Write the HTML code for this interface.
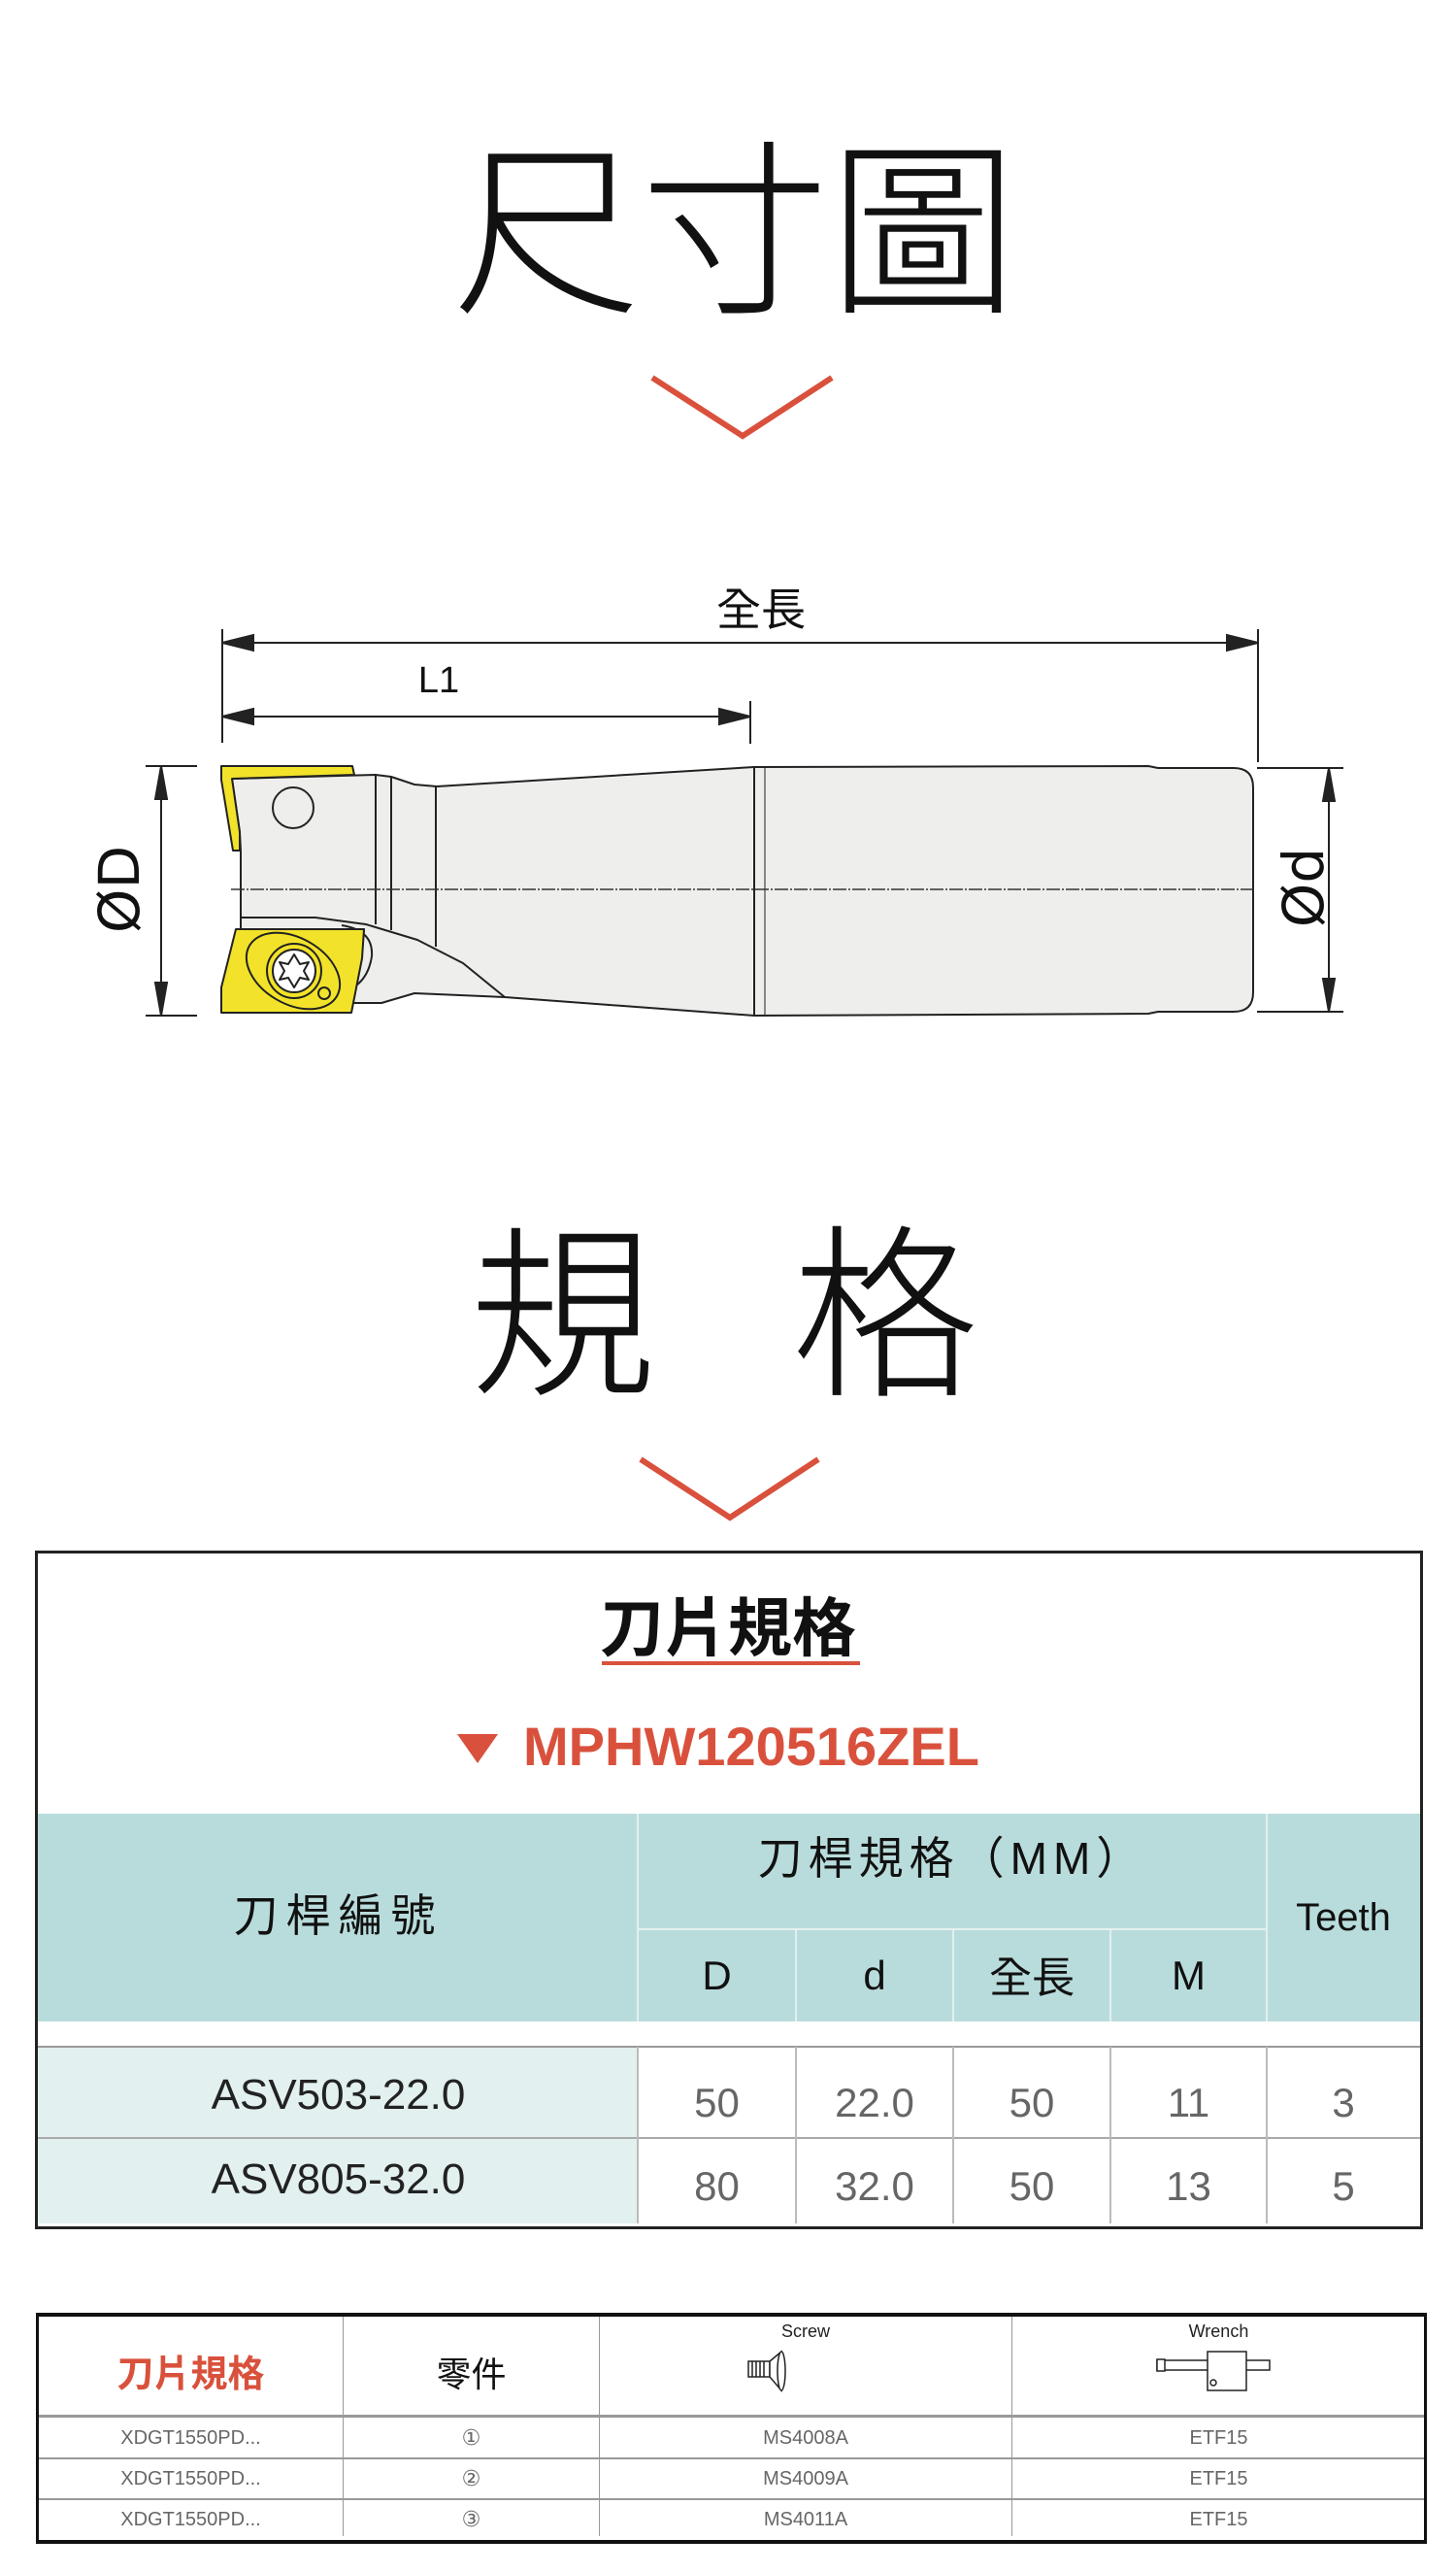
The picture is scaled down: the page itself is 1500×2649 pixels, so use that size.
<!DOCTYPE html>
<html><head><meta charset="utf-8"><style>
html,body{margin:0;padding:0;background:#fff}
body{width:1500px;height:2649px;position:relative;overflow:hidden;font-family:"Liberation Sans","Noto Sans CJK TC",sans-serif}
.abs{position:absolute}
.t{position:absolute;white-space:nowrap}
</style></head><body>

<div class="t" style="left:466px;top:104px;font-size:194px;line-height:240px;font-family:'Noto Sans CJK TC',sans-serif;font-weight:300;color:#111">尺寸圖</div>
<div class="t" style="left:484px;top:1220px;font-size:192px;line-height:240px;font-family:'Noto Sans CJK TC',sans-serif;font-weight:300;color:#111;letter-spacing:140px">規格</div>

<svg class="abs" style="left:0;top:0" width="1500" height="1600" viewBox="0 0 1500 1600">
<polyline points="672,389 765,449 857,389" fill="none" stroke="#d9513c" stroke-width="6"/>
<polyline points="660,1503 752,1563 843,1503" fill="none" stroke="#d9513c" stroke-width="6"/>

<g stroke="#222" stroke-width="2" fill="#222">
<line x1="229" y1="648" x2="229" y2="765"/>
<line x1="773" y1="722" x2="773" y2="766"/>
<line x1="1296" y1="648" x2="1296" y2="785"/>
<line x1="240" y1="662" x2="1285" y2="662"/>
<polygon points="229,662 261,654 261,670"/><polygon points="1296,662 1264,654 1264,670"/>
<line x1="240" y1="738" x2="762" y2="738"/>
<polygon points="229,738 261,730 261,746"/><polygon points="773,738 741,730 741,746"/>
<line x1="150" y1="789" x2="203" y2="789"/><line x1="150" y1="1046" x2="203" y2="1046"/>
<line x1="166" y1="800" x2="166" y2="1035"/>
<polygon points="166,789 160,823 172,823"/><polygon points="166,1046 160,1012 172,1012"/>
<line x1="1295" y1="791" x2="1384" y2="791"/><line x1="1295" y1="1042" x2="1384" y2="1042"/>
<line x1="1369" y1="800" x2="1369" y2="1032"/>
<polygon points="1369,791 1363,825 1375,825"/><polygon points="1369,1042 1363,1008 1375,1008"/>
</g>
<text x="784" y="644" font-size="46" text-anchor="middle" font-family="Noto Sans CJK TC, sans-serif" fill="#111">全長</text>
<text x="452" y="713" font-size="38" text-anchor="middle" font-family="Liberation Sans, sans-serif" fill="#111">L1</text>
<text transform="translate(143,916) rotate(-90)" font-size="58" text-anchor="middle" font-family="DejaVu Sans, sans-serif" fill="#111">ØD</text>
<text transform="translate(1363,914) rotate(-90)" font-size="58" text-anchor="middle" font-family="DejaVu Sans, sans-serif" fill="#111">Ød</text>

<g stroke="#222" stroke-width="2" fill="#eeeeec" stroke-linejoin="round">
<path d="M239,802 L387,798 L403,800 L427,808 L450,810 L777,790 L1183,789 L1193,791 L1271,791 Q1291,791 1291,811 L1291,1022 Q1291,1042 1271,1042 L1193,1042 L1183,1044 L777,1046 L520,1027 L427,1023 L393,1033 L362,1033 L373,987 L375,957 L248,957 L248,876 L247,857 Z"/>
<path d="M248,945 L325,945 L377,952 L430,968 L477,992 L520,1027" fill="none"/>
<line x1="387" y1="798" x2="387" y2="952"/>
<line x1="403" y1="800" x2="403" y2="958"/>
<line x1="449" y1="810" x2="449" y2="975"/>
<line x1="777" y1="790" x2="777" y2="1046"/>
<line x1="788" y1="790" x2="788" y2="1046" stroke-width="1"/>
<circle cx="302" cy="832" r="21"/>
<path d="M352,953 Q385,958 383,985 Q380,1005 367,1015" fill="#eeeeec"/>
</g>
<line x1="238" y1="916" x2="1291" y2="916" stroke="#333" stroke-width="1.5" stroke-dasharray="14,2,2,2"/>
<g stroke="#222" stroke-width="2" fill="#f2e32a" stroke-linejoin="round">
<path d="M228,789 L363,789 L365,798 L239,802 L247,857 L247,876 L240,876 L228,803 Z"/>
<path d="M243,957 L375,957 L373,987 L362,1043 L228,1043 L228,1017 Z"/>
<ellipse cx="302" cy="1000" rx="52" ry="34" transform="rotate(30 302 1000)" fill="none"/>
<circle cx="303" cy="1000" r="28" fill="none"/>
<circle cx="303" cy="1000" r="22" fill="#fff"/>
<path d="M303,983 L309,993 L318,991 L313,1000 L318,1009 L309,1007 L303,1017 L297,1007 L288,1009 L293,1000 L288,991 L297,993 Z" fill="#fff"/>
<circle cx="334" cy="1023" r="6" fill="none"/>
</g>
</svg>

<!-- Table 1 -->
<div class="abs" style="left:36px;top:1597px;width:1424px;height:693px;border:3px solid #222;background:#fff"></div>
<div class="t" style="left:0;width:1500px;text-align:center;top:1634px;font-size:66px;line-height:76px;font-weight:bold;color:#111;font-family:'Noto Sans CJK TC',sans-serif">刀片規格</div>
<div class="abs" style="left:620px;top:1711px;width:266px;height:4px;background:#d9513c"></div>
<div class="t" style="left:471px;top:1786px;width:0;height:0;border-left:21px solid transparent;border-right:21px solid transparent;border-top:30px solid #d9513c"></div>
<div class="t" style="left:539px;top:1766px;font-size:56px;line-height:66px;font-weight:bold;color:#d9513c;letter-spacing:0px">MPHW120516ZEL</div>

<div class="abs" style="left:39px;top:1868px;width:1424px;height:214px;background:#b8dcdb"></div>
<div class="abs" style="left:39px;top:2108px;width:618px;height:182px;background:#e2f0ef"></div>
<div class="abs" style="left:39px;top:2107px;width:1424px;height:2px;background:#999"></div>
<div class="abs" style="left:39px;top:2201px;width:1424px;height:2px;background:#aaa"></div>
<div class="abs" style="left:657px;top:1986px;width:648px;height:2px;background:#e6f2f1"></div>
<div class="abs" style="left:656px;top:1868px;width:2px;height:214px;background:#e3efee"></div>
<div class="abs" style="left:1304px;top:1868px;width:2px;height:214px;background:#e3efee"></div>
<div class="abs" style="left:819px;top:1988px;width:2px;height:94px;background:#e3efee"></div>
<div class="abs" style="left:981px;top:1988px;width:2px;height:94px;background:#e3efee"></div>
<div class="abs" style="left:1143px;top:1988px;width:2px;height:94px;background:#e3efee"></div>
<div class="abs" style="left:656px;top:2108px;width:2px;height:182px;background:#bbb"></div>
<div class="abs" style="left:1304px;top:2108px;width:2px;height:182px;background:#bbb"></div>
<div class="abs" style="left:819px;top:2108px;width:2px;height:182px;background:#bbb"></div>
<div class="abs" style="left:981px;top:2108px;width:2px;height:182px;background:#bbb"></div>
<div class="abs" style="left:1143px;top:2108px;width:2px;height:182px;background:#bbb"></div>

<div class="t" style="left:40px;width:617px;text-align:center;top:1947px;font-size:46px;line-height:52px;letter-spacing:8px;color:#111">刀桿編號</div>
<div class="t" style="left:657px;width:648px;text-align:center;top:1888px;font-size:46px;line-height:52px;letter-spacing:6px;color:#111">刀桿規格（MM）</div>
<div class="t" style="left:1305px;width:158px;text-align:center;top:1952px;font-size:40px;line-height:46px;color:#111">Teeth</div>
<div class="t" style="left:657px;width:163px;text-align:center;top:2011px;font-size:42px;line-height:48px;color:#111">D</div>
<div class="t" style="left:820px;width:162px;text-align:center;top:2011px;font-size:42px;line-height:48px;color:#111">d</div>
<div class="t" style="left:982px;width:162px;text-align:center;top:2008px;font-size:44px;line-height:50px;color:#111;font-family:'Noto Sans CJK TC',sans-serif">全長</div>
<div class="t" style="left:1144px;width:161px;text-align:center;top:2011px;font-size:42px;line-height:48px;color:#111">M</div>

<div class="t" style="left:40px;width:617px;text-align:center;top:2133px;font-size:44px;line-height:50px;color:#222">ASV503-22.0</div>
<div class="t" style="left:40px;width:617px;text-align:center;top:2220px;font-size:44px;line-height:50px;color:#222">ASV805-32.0</div>
<div class="t" style="left:657px;width:163px;text-align:center;top:2142px;font-size:42px;line-height:48px;color:#666">50</div>
<div class="t" style="left:820px;width:162px;text-align:center;top:2142px;font-size:42px;line-height:48px;color:#666">22.0</div>
<div class="t" style="left:982px;width:162px;text-align:center;top:2142px;font-size:42px;line-height:48px;color:#666">50</div>
<div class="t" style="left:1144px;width:161px;text-align:center;top:2142px;font-size:42px;line-height:48px;color:#666">11</div>
<div class="t" style="left:1305px;width:158px;text-align:center;top:2142px;font-size:42px;line-height:48px;color:#666">3</div>
<div class="t" style="left:657px;width:163px;text-align:center;top:2228px;font-size:42px;line-height:48px;color:#666">80</div>
<div class="t" style="left:820px;width:162px;text-align:center;top:2228px;font-size:42px;line-height:48px;color:#666">32.0</div>
<div class="t" style="left:982px;width:162px;text-align:center;top:2228px;font-size:42px;line-height:48px;color:#666">50</div>
<div class="t" style="left:1144px;width:161px;text-align:center;top:2228px;font-size:42px;line-height:48px;color:#666">13</div>
<div class="t" style="left:1305px;width:158px;text-align:center;top:2228px;font-size:42px;line-height:48px;color:#666">5</div>

<!-- Table 2 -->
<div class="abs" style="left:37px;top:2382px;width:1427px;height:230px;border-style:solid;border-color:#111;border-width:4px 3px 4px 3px;background:#fff"></div>
<div class="abs" style="left:40px;top:2487px;width:1427px;height:3px;background:#999"></div>
<div class="abs" style="left:40px;top:2531px;width:1427px;height:2px;background:#999"></div>
<div class="abs" style="left:40px;top:2573px;width:1427px;height:2px;background:#999"></div>
<div class="abs" style="left:353px;top:2386px;width:1px;height:226px;background:#999"></div>
<div class="abs" style="left:617px;top:2386px;width:1px;height:226px;background:#999"></div>
<div class="abs" style="left:1042px;top:2386px;width:1px;height:226px;background:#999"></div>

<div class="t" style="left:40px;width:313px;text-align:center;top:2419px;font-size:38px;line-height:46px;font-weight:bold;color:#d9513c;font-family:'Noto Sans CJK TC',sans-serif">刀片規格</div>
<div class="t" style="left:354px;width:263px;text-align:center;top:2421px;font-size:36px;line-height:44px;color:#111;font-family:'Noto Sans CJK TC',sans-serif">零件</div>
<div class="t" style="left:618px;width:424px;text-align:center;top:2390px;font-size:18px;line-height:22px;color:#222">Screw</div>
<div class="t" style="left:1043px;width:425px;text-align:center;top:2390px;font-size:18px;line-height:22px;color:#222">Wrench</div>
<svg class="abs" style="left:770px;top:2420px" width="70" height="48" viewBox="0 0 70 48">
<g stroke="#222" stroke-width="1.5" fill="#fff">
<rect x="1" y="12" width="22" height="16"/>
<path d="M5,12v16M9,12v16M13,12v16M17,12v16" />
<path d="M23,12 L35,2 L35,42 L23,28 Z"/>
<ellipse cx="35" cy="22" rx="4" ry="20"/>
</g></svg>
<svg class="abs" style="left:1190px;top:2420px" width="120" height="50" viewBox="0 0 120 50">
<g stroke="#222" stroke-width="1.5" fill="#fff">
<rect x="2" y="11" width="116" height="10"/>
<rect x="54" y="2" width="40" height="40"/>
<rect x="2" y="10" width="8" height="12"/>
<circle cx="60" cy="34" r="3"/>
</g></svg>

<div class="t" style="left:40px;width:313px;text-align:center;top:2499px;font-size:20px;line-height:24px;color:#666">XDGT1550PD...</div>
<div class="t" style="left:40px;width:313px;text-align:center;top:2541px;font-size:20px;line-height:24px;color:#666">XDGT1550PD...</div>
<div class="t" style="left:40px;width:313px;text-align:center;top:2583px;font-size:20px;line-height:24px;color:#666">XDGT1550PD...</div>
<div class="t" style="left:354px;width:263px;text-align:center;top:2499px;font-size:22px;line-height:26px;color:#666;font-family:'DejaVu Sans',sans-serif">①</div>
<div class="t" style="left:354px;width:263px;text-align:center;top:2541px;font-size:22px;line-height:26px;color:#666;font-family:'DejaVu Sans',sans-serif">②</div>
<div class="t" style="left:354px;width:263px;text-align:center;top:2583px;font-size:22px;line-height:26px;color:#666;font-family:'DejaVu Sans',sans-serif">③</div>
<div class="t" style="left:618px;width:424px;text-align:center;top:2499px;font-size:20px;line-height:24px;color:#666">MS4008A</div>
<div class="t" style="left:618px;width:424px;text-align:center;top:2541px;font-size:20px;line-height:24px;color:#666">MS4009A</div>
<div class="t" style="left:618px;width:424px;text-align:center;top:2583px;font-size:20px;line-height:24px;color:#666">MS4011A</div>
<div class="t" style="left:1043px;width:425px;text-align:center;top:2499px;font-size:20px;line-height:24px;color:#666">ETF15</div>
<div class="t" style="left:1043px;width:425px;text-align:center;top:2541px;font-size:20px;line-height:24px;color:#666">ETF15</div>
<div class="t" style="left:1043px;width:425px;text-align:center;top:2583px;font-size:20px;line-height:24px;color:#666">ETF15</div>

</body></html>
